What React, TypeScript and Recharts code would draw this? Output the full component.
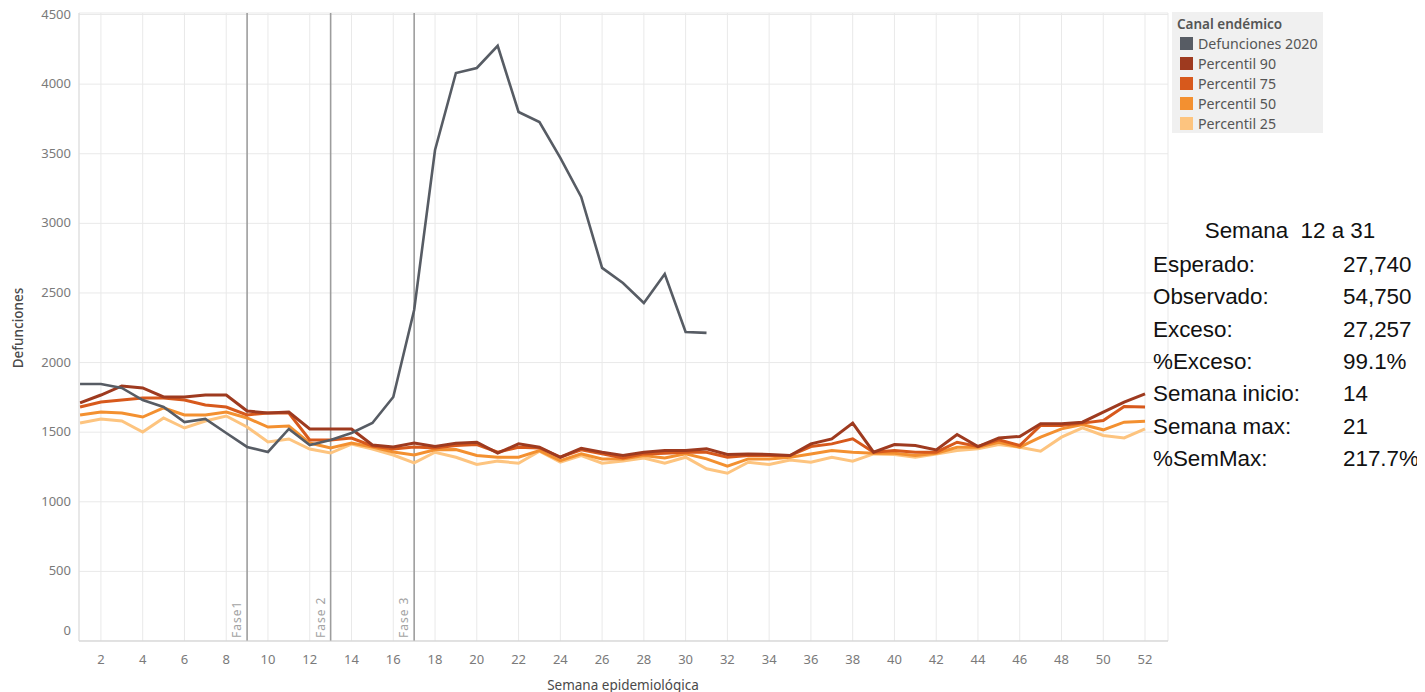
import React from "react";
import { LineChart, Line, XAxis, YAxis, CartesianGrid, ReferenceLine } from "recharts";

const weeks: number[] = Array.from({ length: 52 }, (_, i) => i + 1);

const defunciones2020: number[] = [
  1846, 1846, 1818, 1731, 1681, 1573, 1595, 1494, 1394, 1358, 1523, 1408, 1444, 1494, 1566, 1753,
  2378, 3527, 4080, 4116, 4275, 3800, 3728, 3470, 3190, 2680, 2572, 2428, 2636, 2220, 2213,
];

const percentil90: number[] = [
  1710, 1767, 1832, 1818, 1753, 1753, 1767, 1767, 1652, 1638, 1645, 1523, 1523, 1523, 1408, 1394, 1422,
  1397, 1421, 1428, 1349, 1416, 1392, 1320, 1385, 1356, 1332, 1356, 1368, 1368, 1380, 1340, 1344, 1340, 1332,
  1416, 1452, 1565, 1356, 1411, 1404, 1373, 1483, 1397, 1459, 1469, 1560, 1560, 1572, 1644, 1716, 1775,
];

const percentil75: number[] = [
  1681, 1717, 1731, 1746, 1746, 1731, 1695, 1681, 1624, 1638, 1638, 1444, 1444, 1458, 1401, 1379, 1394,
  1387, 1404, 1411, 1356, 1392, 1387, 1320, 1373, 1344, 1315, 1344, 1349, 1356, 1356, 1320, 1332, 1332, 1332,
  1397, 1416, 1452, 1356, 1368, 1356, 1356, 1428, 1397, 1445, 1404, 1548, 1548, 1565, 1584, 1684, 1680,
];

const percentil50: number[] = [
  1624, 1645, 1638, 1609, 1674, 1624, 1624, 1645, 1602, 1537, 1545, 1422, 1386, 1422, 1394, 1358, 1336,
  1373, 1375, 1332, 1320, 1320, 1368, 1296, 1344, 1308, 1308, 1332, 1315, 1344, 1308, 1256, 1308, 1308, 1320,
  1344, 1368, 1356, 1349, 1349, 1332, 1349, 1392, 1392, 1428, 1392, 1464, 1524, 1555, 1517, 1572, 1579,
];

const percentil25: number[] = [
  1566, 1595, 1580, 1501, 1602, 1530, 1580, 1616, 1537, 1430, 1451, 1379, 1350, 1415, 1379, 1336, 1279,
  1356, 1320, 1268, 1292, 1277, 1363, 1284, 1332, 1277, 1292, 1315, 1277, 1320, 1237, 1205, 1284, 1268, 1300,
  1284, 1320, 1292, 1344, 1339, 1320, 1344, 1368, 1380, 1411, 1392, 1363, 1464, 1531, 1476, 1459, 1524,
];

const xTicks: number[] = [2, 4, 6, 8, 10, 12, 14, 16, 18, 20, 22, 24, 26, 28, 30, 32, 34, 36, 38, 40, 42, 44, 46, 48, 50, 52];
const yTicks: number[] = [0, 500, 1000, 1500, 2000, 2500, 3000, 3500, 4000, 4500];

const fases: { week: number; label: string }[] = [
  { week: 9, label: "Fase1" },
  { week: 13, label: "Fase 2" },
  { week: 17, label: "Fase 3" },
];

const legendTitle = "Canal endémico";
const legendItems: { label: string; color: string }[] = [
  { label: "Defunciones 2020", color: "#575c64" },
  { label: "Percentil 90", color: "#9e3a1f" },
  { label: "Percentil 75", color: "#d7591c" },
  { label: "Percentil 50", color: "#f39030" },
  { label: "Percentil 25", color: "#fdc47f" },
];

const summaryTitle = "Semana  12 a 31";
const summaryRows: [string, string][] = [
  ["Esperado:", "27,740"],
  ["Observado:", "54,750"],
  ["Exceso:", "27,257"],
  ["%Exceso:", "99.1%"],
  ["Semana inicio:", "14"],
  ["Semana max:", "21"],
  ["%SemMax:", "217.7%"],
];

const data = weeks.map((w, i) => ({
  week: w,
  d2020: i < defunciones2020.length ? defunciones2020[i] : null,
  p90: percentil90[i],
  p75: percentil75[i],
  p50: percentil50[i],
  p25: percentil25[i],
}));

const FONT = "'Noto Sans', 'Open Sans', sans-serif";

const YTick = (props: any) => {
  const { x, y, payload } = props;
  const yy = payload.value === 0 ? y - 10 : y;
  return (
    <text x={x} y={yy} dy={4} textAnchor="end" fill="#7a7a7a" fontSize={13} fontFamily={FONT}>
      {payload.value}
    </text>
  );
};

const XTick = (props: any) => {
  const { x, y, payload } = props;
  return (
    <text x={x} y={y} dy={15} textAnchor="middle" fill="#7a7a7a" fontSize={13} fontFamily={FONT}>
      {payload.value}
    </text>
  );
};

const FaseLabel = (text: string) => (props: any) => {
  const vb = props.viewBox || {};
  const x = (vb.x ?? 0) - 6;
  const y = (vb.y ?? 0) + (vb.height ?? 0) - 3;
  return (
    <text
      x={x}
      y={y}
      transform={`rotate(-90 ${x} ${y})`}
      textAnchor="start"
      fill="#a3a3a3"
      fontSize={12}
      fontFamily={FONT}
      letterSpacing={1}
    >
      {text}
    </text>
  );
};

export default function App() {
  return (
    <div style={{ position: "relative", width: 1425, height: 692, margin: "-8px 0 0 -8px", fontFamily: FONT }}>
      <LineChart width={1425} height={692} data={data} margin={{ top: 13, right: 257, bottom: 0, left: 0 }}>
        <CartesianGrid stroke="#e9e9e9" strokeWidth={1} />
        <XAxis
          dataKey="week"
          type="number"
          domain={[0.95, 53.1]}
          ticks={xTicks}
          allowDataOverflow
          height={51}
          tickLine={false}
          axisLine={{ stroke: "#cfcfcf" }}
          tick={<XTick />}
          interval={0}
        />
        <YAxis
          type="number"
          domain={[0, 4511]}
          ticks={yTicks}
          allowDataOverflow
          width={79}
          tickLine={false}
          axisLine={{ stroke: "#dcdcdc" }}
          tick={<YTick />}
          interval={0}
        />
        {fases.map((f) => (
          <ReferenceLine
            key={f.week}
            x={f.week}
            stroke="#9d9d9d"
            strokeWidth={1.6}
            label={FaseLabel(f.label)}
          />
        ))}
        <Line type="linear" dataKey="p25" stroke="#fdc47f" strokeWidth={3} dot={false} isAnimationActive={false} />
        <Line type="linear" dataKey="p50" stroke="#f39030" strokeWidth={3} dot={false} isAnimationActive={false} />
        <Line type="linear" dataKey="p75" stroke="#d7591c" strokeWidth={3} dot={false} isAnimationActive={false} />
        <Line type="linear" dataKey="p90" stroke="#9e3a1f" strokeWidth={3} dot={false} isAnimationActive={false} />
        <Line
          type="linear"
          dataKey="d2020"
          stroke="#575c64"
          strokeWidth={2.6}
          dot={false}
          connectNulls={false}
          isAnimationActive={false}
        />
      </LineChart>

      <div
        style={{
          position: "absolute",
          left: 18,
          top: 328,
          transform: "translate(-50%, -50%) rotate(-90deg)",
          fontSize: 13.5,
          color: "#4a4a4a",
          whiteSpace: "nowrap",
          fontWeight: 500,
        }}
      >
        Defunciones
      </div>
      <div
        style={{
          position: "absolute",
          left: 623,
          top: 685,
          transform: "translate(-50%, -50%)",
          fontSize: 13.5,
          color: "#4a4a4a",
          whiteSpace: "nowrap",
          lineHeight: "14px",
        }}
      >
        Semana epidemiológica
      </div>

      <div
        style={{
          position: "absolute",
          left: 1172,
          top: 12,
          width: 151,
          height: 121,
          background: "#f0f0f0",
        }}
      >
        <div style={{ position: "absolute", left: 5, top: 3, fontSize: 13.5, fontWeight: 600, color: "#555", whiteSpace: "nowrap" }}>
          {legendTitle}
        </div>
        {legendItems.map((it, i) => (
          <div key={it.label} style={{ position: "absolute", left: 8, top: 23 + i * 20, height: 16, display: "flex", alignItems: "center" }}>
            <div style={{ width: 13, height: 13, background: it.color }} />
            <div style={{ marginLeft: 5, fontSize: 14.2, color: "#555", whiteSpace: "nowrap" }}>{it.label}</div>
          </div>
        ))}
      </div>

      <div
        style={{
          position: "absolute",
          left: 1153,
          top: 218,
          width: 272,
          fontFamily: "'Liberation Sans', Arial, sans-serif",
          fontSize: 22.4,
          color: "#111",
        }}
      >
        <div style={{ position: "absolute", left: 0, width: 274, top: 0, textAlign: "center", whiteSpace: "pre" }}>
          {summaryTitle}
        </div>
        {summaryRows.map(([k, v], i) => (
          <React.Fragment key={k}>
            <div style={{ position: "absolute", left: 0, top: 34 + i * 32.3, whiteSpace: "nowrap" }}>{k}</div>
            <div style={{ position: "absolute", left: 190, top: 34 + i * 32.3, whiteSpace: "nowrap" }}>{v}</div>
          </React.Fragment>
        ))}
      </div>
    </div>
  );
}
